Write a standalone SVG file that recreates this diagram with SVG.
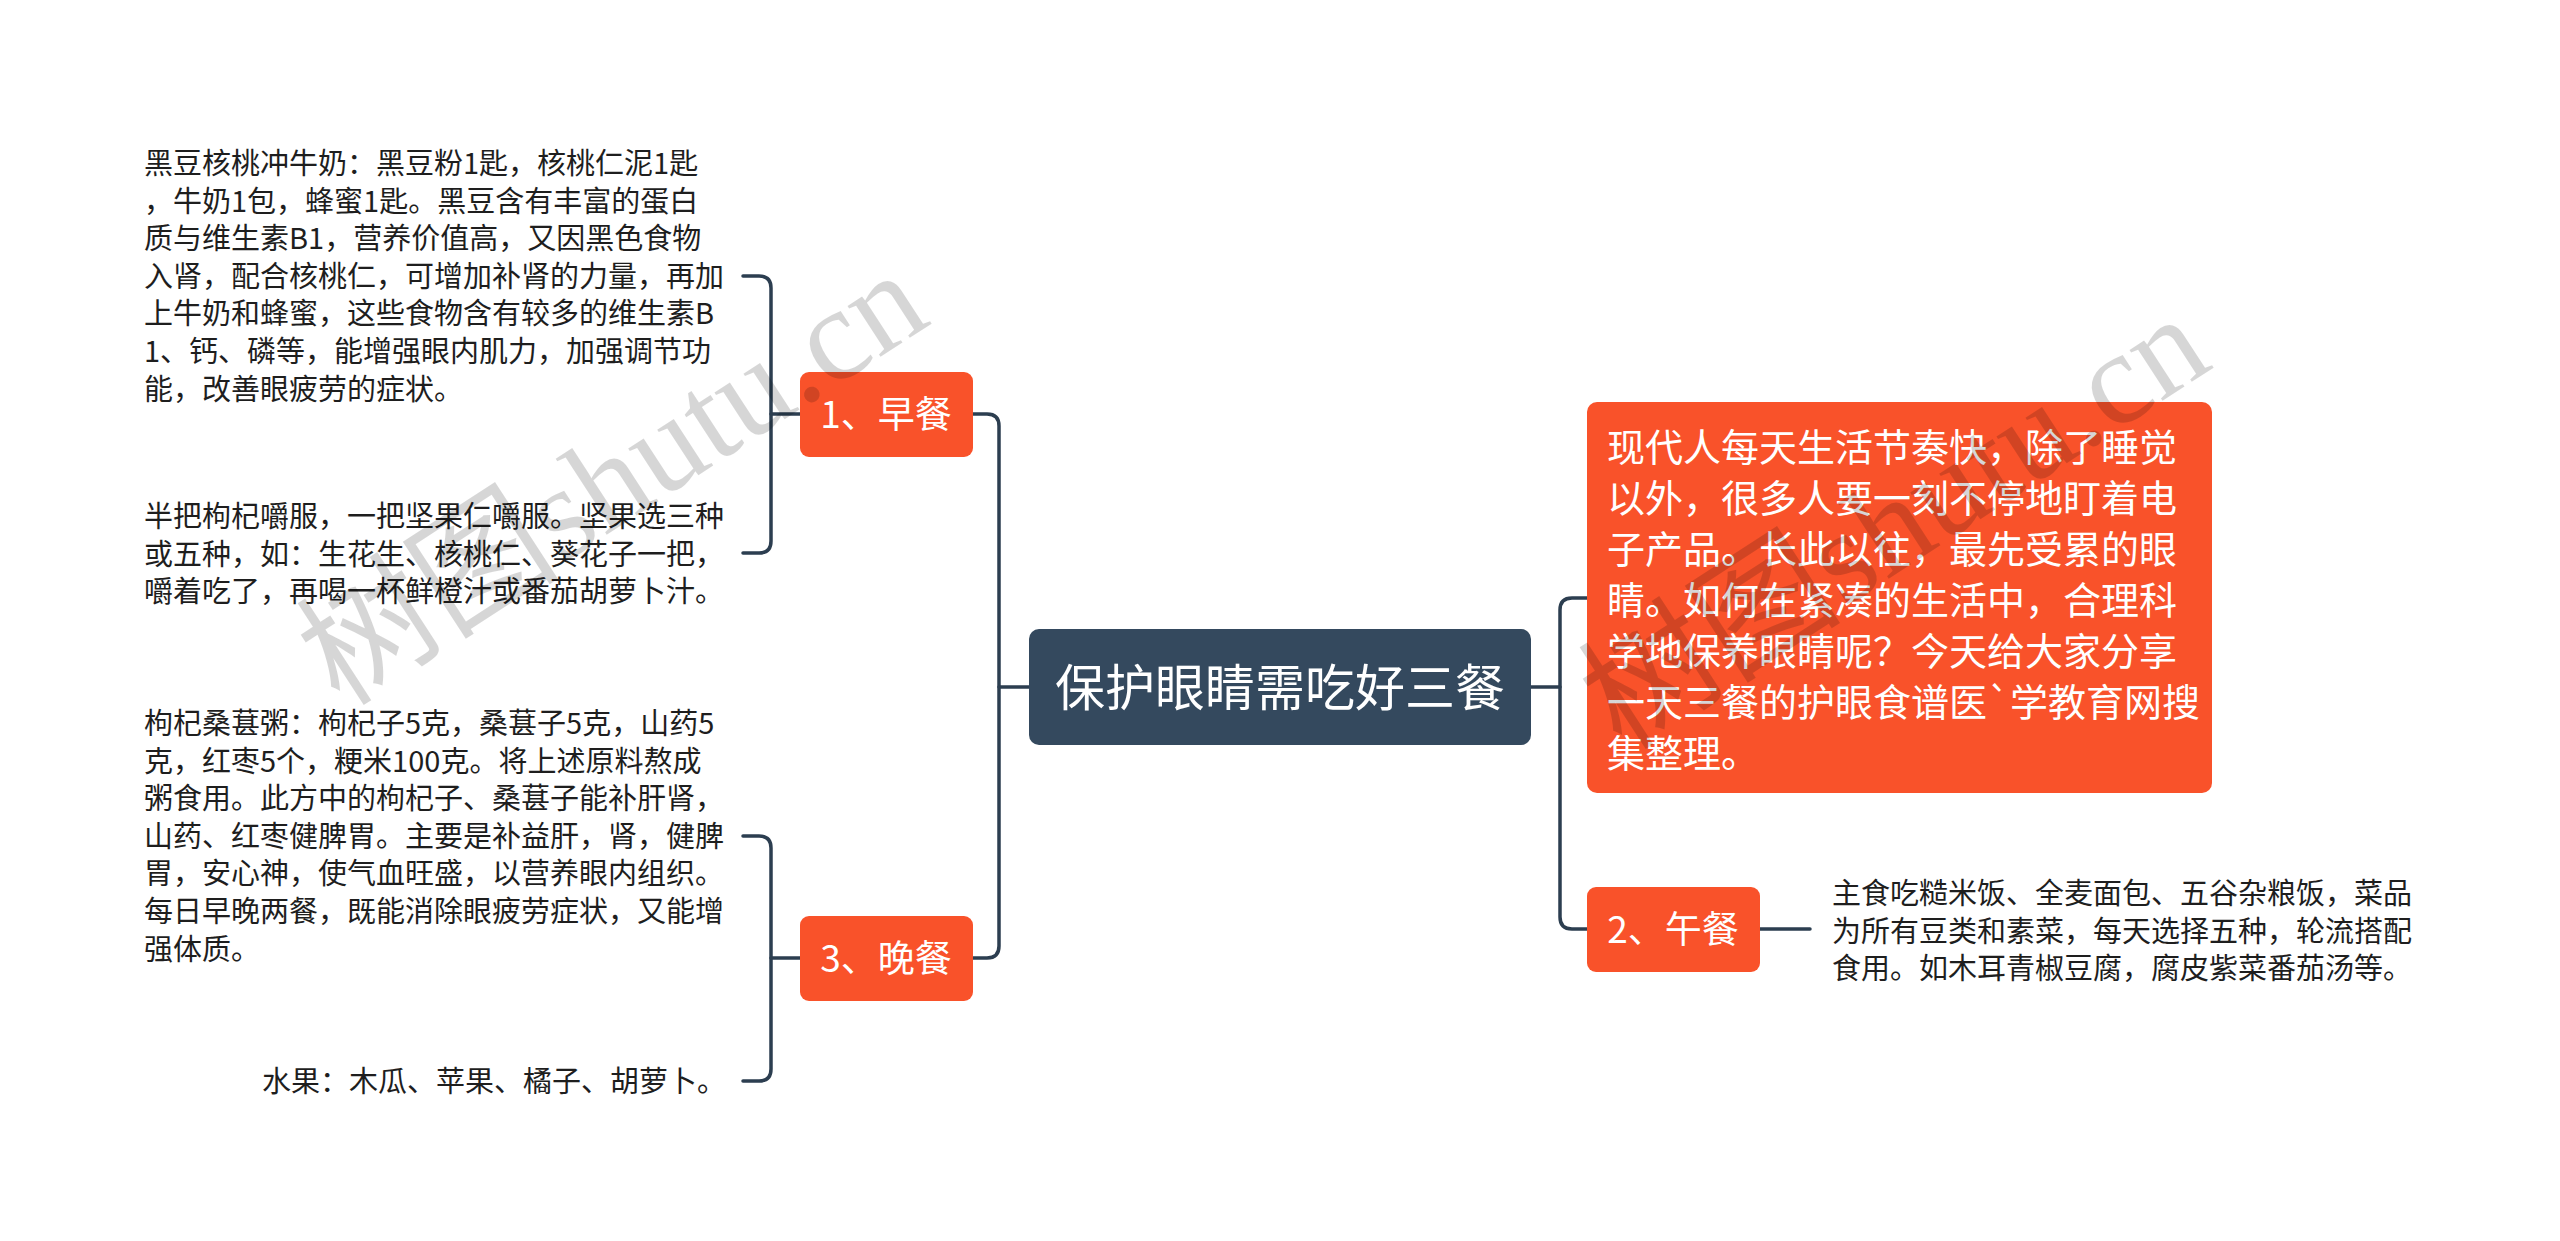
<svg xmlns="http://www.w3.org/2000/svg" width="2560" height="1241" viewBox="0 0 2560 1241">
<style>
.bg{fill:#FFFFFF}
.conn{fill:none;stroke:#2C3E50;stroke-width:3.5;stroke-linecap:round}
.orange{fill:#F9522A}
.root{fill:#34495E}
.t{font-family:"Noto Sans CJK SC","Noto Sans",sans-serif}
.leaf{font-size:29px;fill:#1E1E1E}
.wt{fill:#FFFFFF}
.wm{font-family:"Liberation Serif","Noto Sans CJK SC",serif;font-size:132px;fill:#000000;fill-opacity:0.16}
</style>
<rect class="bg" x="0" y="0" width="2560" height="1241"/>

<g id="connectors">
  <path class="conn" d="M1029,687 H999"/>
  <path class="conn" d="M973,414 H987 Q999,414 999,426 V946 Q999,958 987,958 H973"/>
  <path class="conn" d="M800,414 H771"/>
  <path class="conn" d="M743,276 H759 Q771,276 771,288 V541 Q771,553 759,553 H743"/>
  <path class="conn" d="M800,958 H771"/>
  <path class="conn" d="M743,836 H759 Q771,836 771,848 V1069 Q771,1081 759,1081 H743"/>
  <path class="conn" d="M1531,687 H1560"/>
  <path class="conn" d="M1587,598 H1572 Q1560,598 1560,610 V917 Q1560,929 1572,929 H1587"/>
  <path class="conn" d="M1760,929 H1810"/>
</g>

<g id="root">
  <rect class="root" x="1029" y="629" width="502" height="116" rx="10"/>
  <text class="t wt" x="1280" y="706" font-size="50" text-anchor="middle">保护眼睛需吃好三餐</text>
</g>

<g id="breakfast">
  <rect class="orange" x="800" y="372" width="173" height="85" rx="9"/>
  <text class="t wt" x="886" y="428" font-size="37" text-anchor="middle">1、早餐</text>
</g>

<g id="breakfast-1">
  <text class="t leaf" x="144" y="174">黑豆核桃冲牛奶：黑豆粉1匙，核桃仁泥1匙<tspan x="144" dy="37.6">，牛奶1包，蜂蜜1匙。黑豆含有丰富的蛋白</tspan><tspan x="144" dy="37.6">质与维生素B1，营养价值高，又因黑色食物</tspan><tspan x="144" dy="37.6">入肾，配合核桃仁，可增加补肾的力量，再加</tspan><tspan x="144" dy="37.6">上牛奶和蜂蜜，这些食物含有较多的维生素B</tspan><tspan x="144" dy="37.6">1、钙、磷等，能增强眼内肌力，加强调节功</tspan><tspan x="144" dy="37.6">能，改善眼疲劳的症状。</tspan></text>
</g>

<g id="breakfast-2">
  <text class="t leaf" x="144" y="527">半把枸杞嚼服，一把坚果仁嚼服。坚果选三种<tspan x="144" dy="37.6">或五种，如：生花生、核桃仁、葵花子一把，</tspan><tspan x="144" dy="37.6">嚼着吃了，再喝一杯鲜橙汁或番茄胡萝卜汁。</tspan></text>
</g>

<g id="dinner">
  <rect class="orange" x="800" y="916" width="173" height="85" rx="9"/>
  <text class="t wt" x="886" y="972" font-size="37" text-anchor="middle">3、晚餐</text>
</g>

<g id="dinner-1">
  <text class="t leaf" x="144" y="734">枸杞桑葚粥：枸杞子5克，桑葚子5克，山药5<tspan x="144" dy="37.6">克，红枣5个，粳米100克。将上述原料熬成</tspan><tspan x="144" dy="37.6">粥食用。此方中的枸杞子、桑葚子能补肝肾，</tspan><tspan x="144" dy="37.6">山药、红枣健脾胃。主要是补益肝，肾，健脾</tspan><tspan x="144" dy="37.6">胃，安心神，使气血旺盛，以营养眼内组织。</tspan><tspan x="144" dy="37.6">每日早晚两餐，既能消除眼疲劳症状，又能增</tspan><tspan x="144" dy="37.6">强体质。</tspan></text>
</g>

<g id="dinner-2">
  <text class="t leaf" x="726" y="1092" text-anchor="end">水果：木瓜、苹果、橘子、胡萝卜。</text>
</g>

<g id="intro">
  <rect class="orange" x="1587" y="402" width="625" height="391" rx="10"/>
  <text class="t wt" x="1607" y="461" font-size="38">现代人每天生活节奏快，除了睡觉<tspan x="1607" dy="51">以外，很多人要一刻不停地盯着电</tspan><tspan x="1607" dy="51">子产品。长此以往，最先受累的眼</tspan><tspan x="1607" dy="51">睛。如何在紧凑的生活中，合理科</tspan><tspan x="1607" dy="51">学地保养眼睛呢？今天给大家分享</tspan><tspan x="1607" dy="51">一天三餐的护眼食谱医`学教育网搜</tspan><tspan x="1607" dy="51">集整理。</tspan></text>
</g>

<g id="lunch">
  <rect class="orange" x="1587" y="887" width="173" height="85" rx="9"/>
  <text class="t wt" x="1673" y="943" font-size="37" text-anchor="middle">2、午餐</text>
</g>

<g id="lunch-1">
  <text class="t leaf" x="1832" y="904">主食吃糙米饭、全麦面包、五谷杂粮饭，菜品<tspan x="1832" dy="37.6">为所有豆类和素菜，每天选择五种，轮流搭配</tspan><tspan x="1832" dy="37.6">食用。如木耳青椒豆腐，腐皮紫菜番茄汤等。</tspan></text>
</g>

<g id="watermarks">
  <text class="wm" transform="translate(340,708) rotate(-33)">树图shutu.cn</text>
  <text class="wm" transform="translate(1622,752) rotate(-33)">树图shutu.cn</text>
</g>
</svg>
